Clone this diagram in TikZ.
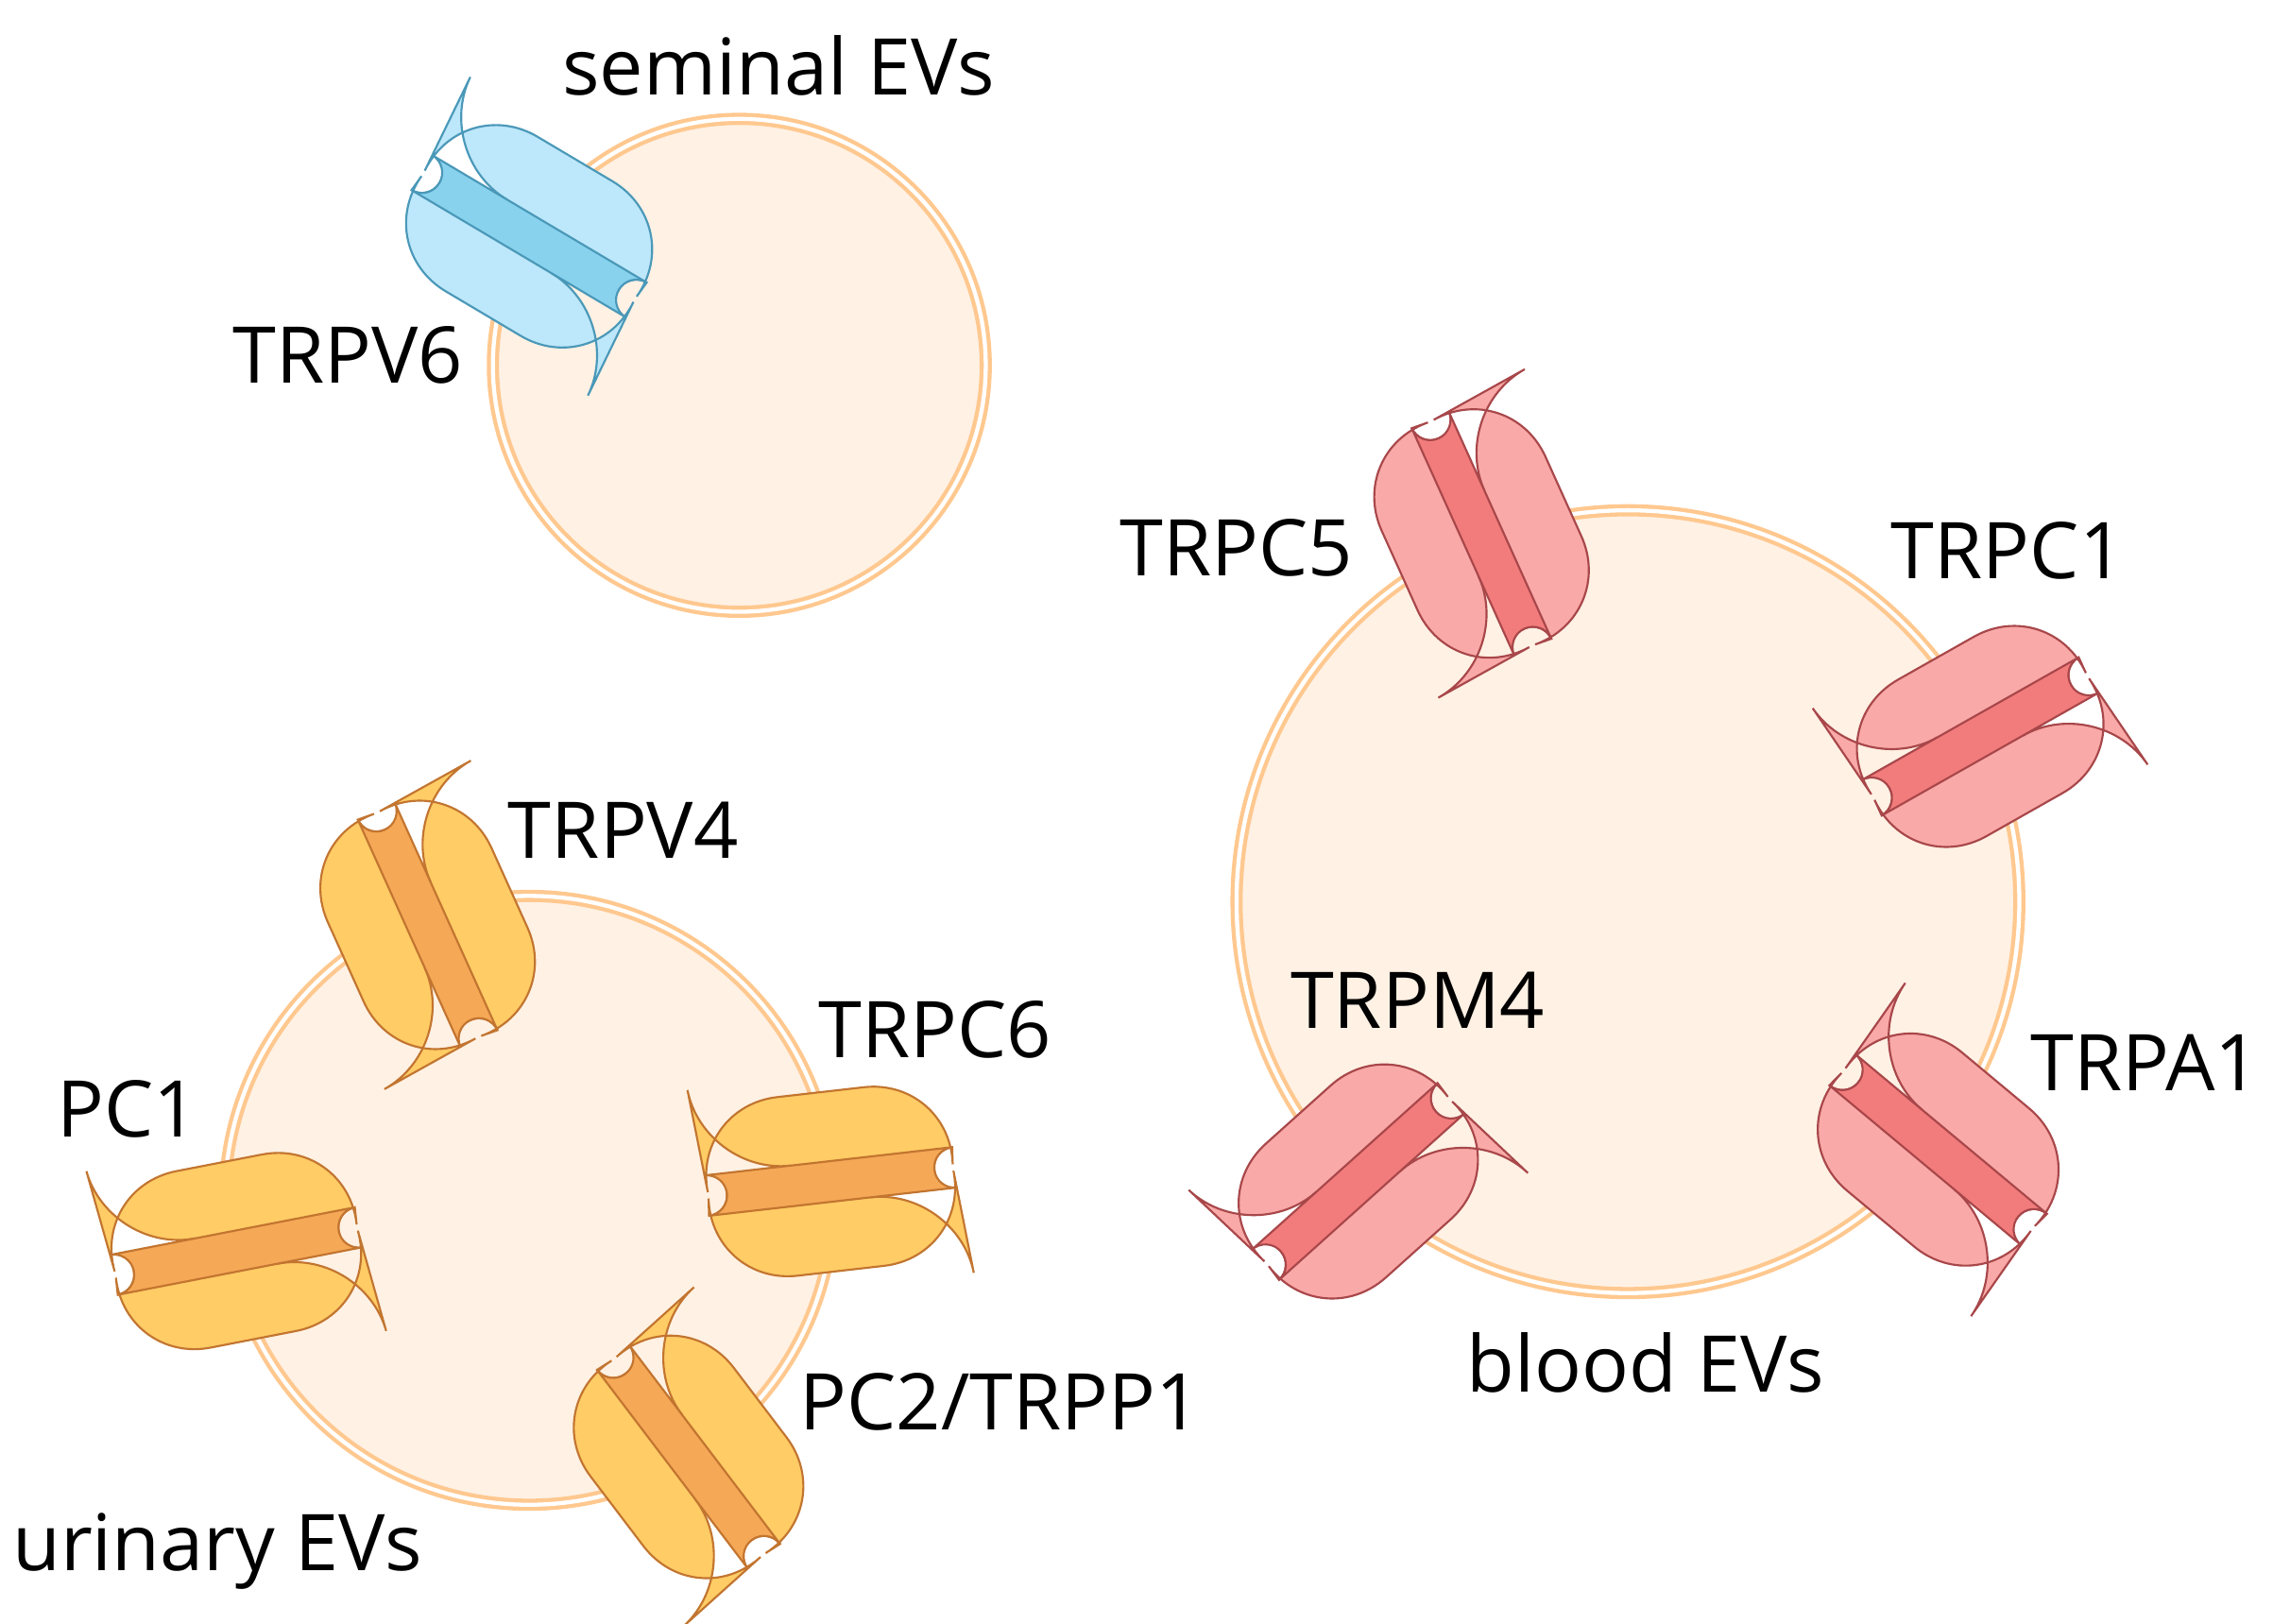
\documentclass[tikz,border=0pt]{standalone}
\usepackage{fontspec}
\setmainfont{Open Sans}
\definecolor{vesFill}{HTML}{FFF1E4}
\definecolor{vesRing}{HTML}{FFC88F}
\definecolor{blueLight}{HTML}{BDE7FA}
\definecolor{blueDark}{HTML}{88D2EE}
\definecolor{blueLine}{HTML}{4A98B8}
\definecolor{redLight}{HTML}{F9A9A8}
\definecolor{redDark}{HTML}{F27C7C}
\definecolor{redLine}{HTML}{A8474A}
\definecolor{yelLight}{HTML}{FFCC66}
\definecolor{yelDark}{HTML}{F5A856}
\definecolor{yelLine}{HTML}{C27530}
\tikzset{
  vesicle/.style={draw=vesRing,double=white,double distance=1.4pt,line width=1.4pt,fill=vesFill},
  lbl/.style={font=\fontsize{27}{30}\selectfont,inner sep=0pt},
  pics/chan/.style n args={3}{code={
    % lobes
    \path[fill=#1,draw=#3,line width=0.7pt,rounded corners=30]
      (-86,14) -- (-90,62) -- (90,62) -- (86,14) [sharp corners]
      arc[start angle=90,end angle=270,radius=14]
      [rounded corners=30] -- (90,-62) -- (-90,-62) -- (-86,-14) [sharp corners]
      arc[start angle=-90,end angle=90,radius=14] -- cycle;
    % pore band
    \path[fill=#2,draw=#3,line width=0.7pt]
      (-86,14) -- (86,14) arc[start angle=90,end angle=270,radius=14]
      -- (-86,-14) arc[start angle=-90,end angle=90,radius=14] -- cycle;
  }}
}
\begin{document}
\begin{tikzpicture}[x=0.5pt,y=-0.5pt]
\path[use as bounding box] (0,0) rectangle (1568,1120);

% vesicles
\path[vesicle] (510,252) circle[radius=170];
\path[vesicle] (1123,622) circle[radius=270];
\path[vesicle] (365,828) circle[radius=210];

% seminal EVs
\pic[rotate=-30.7] at (365,163) {chan={blueLight}{blueDark}{blueLine}};

% blood EVs
\pic[rotate=-65.7] at (1022,368) {chan={redLight}{redDark}{redLine}};
\pic[rotate=29.5] at (1366,508) {chan={redLight}{redDark}{redLine}};
\pic[rotate=41.9] at (937,815) {chan={redLight}{redDark}{redLine}};
\pic[rotate=-39.8] at (1337,793) {chan={redLight}{redDark}{redLine}};

% urinary EVs
\pic[rotate=-65.7] at (295,638) {chan={yelLight}{yelDark}{yelLine}};
\pic[rotate=6.5] at (573,815) {chan={yelLight}{yelDark}{yelLine}};
\pic[rotate=11] at (163,863) {chan={yelLight}{yelDark}{yelLine}};
\pic[rotate=-52.8] at (475,1005) {chan={yelLight}{yelDark}{yelLine}};

% labels
\node[lbl] (seminal) at (537,45) {seminal EVs};
\node[lbl] (trpv6) at (240,245) {TRPV6};
\node[lbl] (trpc5) at (853,378) {TRPC5};
\node[lbl] (trpc1) at (1385,380) {TRPC1};
\node[lbl] (trpm4) at (978,690) {TRPM4};
\node[lbl] (trpa1) at (1480,733) {TRPA1};
\node[lbl] (blood) at (1135,940) {blood EVs};
\node[lbl] (trpv4) at (430,573) {TRPV4};
\node[lbl] (trpc6) at (645,710) {TRPC6};
\node[lbl] (pc1) at (88,765) {PC1};
\node[lbl] (pc2) at (690,967) {PC2/TRPP1};
\node[lbl] (urinary) at (150,1070) {urinary EVs};
\end{tikzpicture}
\end{document}
